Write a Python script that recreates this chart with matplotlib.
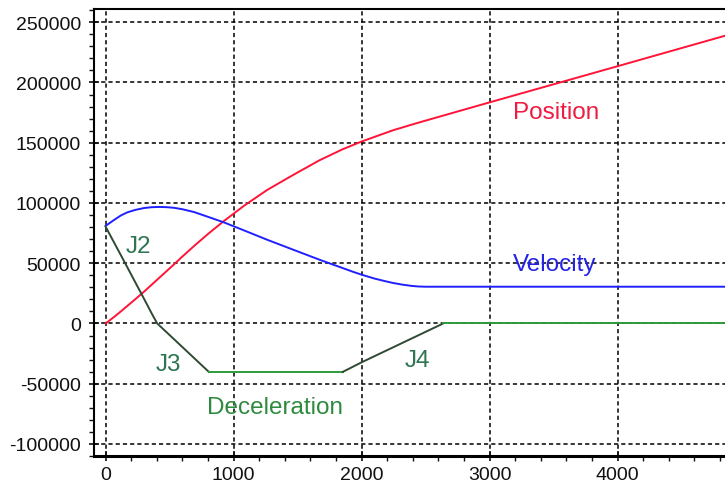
import matplotlib
matplotlib.use("Agg")
import matplotlib.pyplot as plt
from matplotlib.ticker import MultipleLocator

plt.rcParams['font.family'] = ['Liberation Sans', 'DejaVu Sans']
plt.rcParams['lines.scale_dashes'] = False

# ---- data ----
pos_t = [0, 60, 120, 169, 230, 300, 360, 420, 480, 547, 600, 690, 800, 924, 1080, 1262, 1471,
         1674, 1852, 2000, 2247, 2442, 3000, 4000, 4840]
pos_p = [0, 4900, 10100, 14500, 20000, 26400, 32200, 38000, 43800, 50300, 55600, 64200, 74300,
         85000, 97600, 110800, 123600, 135600, 144600, 151000, 160400, 166600, 183500, 213500, 238800]

vel_t = [0, 60, 120, 169, 230, 300, 360, 420, 480, 534, 600, 690, 800, 924, 1080, 1262, 1471,
         1674, 1852, 1930, 2000, 2100, 2180, 2247, 2320, 2390, 2442, 2500, 4840]
vel_v = [81000, 85500, 89700, 92200, 94200, 95800, 96500, 96700, 96500, 96000, 94800, 92500,
         88500, 83900, 77300, 69500, 61000, 52800, 46000, 43000, 40500, 37300, 35200, 33600,
         32200, 31200, 30700, 30500, 30500]

dec_t = [0, 143, 286, 364, 403, 481, 807, 1852, 2000, 2638, 4840]
dec_a = [80250, 51900, 23300, 7500, 0, -7750, -40250, -40250, -32250, 0, 0]

# segments of the deceleration curve: (start index, end index, kind)
dec_segments = [(0, 6, 'jerk'), (6, 7, 'flat'), (7, 9, 'jerk'), (9, 10, 'flat')]

labels = {
    'Position': (3522, 175800),
    'Velocity': (3506, 49200),
    'Deceleration': (1327, -69200),
    'J2': (260, 64200),
    'J3': (487, -33300),
    'J4': (2440, -30000),
}

x_ticks = [0, 1000, 2000, 3000, 4000]
y_ticks = [-100000, -50000, 0, 50000, 100000, 150000, 200000, 250000]

# ---- figure ----
W, H = 725, 485
fig = plt.figure(figsize=(W / 100, H / 100), dpi=100)
ax = fig.add_axes([94 / W, 1 - 457 / H, (W - 94) / W, (457 - 10) / H])

ax.set_xlim(-91, 4840)
ax.set_ylim(-110000, 261000)

ax.plot(pos_t, pos_p, color='#ff1438', lw=1.4, zorder=3)
ax.plot(vel_t, vel_v, color='#2020ff', lw=1.4, zorder=3)
for i0, i1, kind in dec_segments:
    col = '#2f4a33' if kind == 'jerk' else '#2f9a3c'
    ax.plot(dec_t[i0:i1 + 1], dec_a[i0:i1 + 1], color=col, lw=1.4, zorder=3,
            solid_joinstyle='round')

txt_style = dict(fontsize=17.5, ha='center', va='center', zorder=4)
ax.text(*labels['Position'], 'Position', color='#ee1c40', **txt_style)
ax.text(*labels['Velocity'], 'Velocity', color='#2424e6', **txt_style)
ax.text(*labels['Deceleration'], 'Deceleration', color='#2e8a3e', **txt_style)
for k in ['J2', 'J3', 'J4']:
    ax.text(*labels[k], k, color='#2e7552', **txt_style)

ax.set_xticks(x_ticks)
ax.set_yticks(y_ticks)
ax.set_xticklabels([str(v) for v in x_ticks])
ax.set_yticklabels([str(v) for v in y_ticks])
ax.xaxis.set_minor_locator(MultipleLocator(200))
ax.yaxis.set_minor_locator(MultipleLocator(10000))

ax.tick_params(axis='both', which='major', direction='inout', length=7, width=1.2,
               labelsize=14, colors='#111111')
ax.tick_params(axis='both', which='minor', direction='out', length=3.5, width=1.0, colors='#111111')
ax.tick_params(axis='y', which='major', pad=6)
ax.tick_params(axis='x', which='major', pad=4)

ax.grid(True, which='major', color='black', linestyle=(0, (3.0, 2.2)), linewidth=1.1, zorder=1)
ax.set_axisbelow(True)

ax.spines['right'].set_visible(False)
ax.spines['left'].set_linewidth(1.5)
ax.spines['top'].set_linewidth(1.5)
ax.spines['bottom'].set_linewidth(2.2)

fig.savefig('out.png', dpi=100)
